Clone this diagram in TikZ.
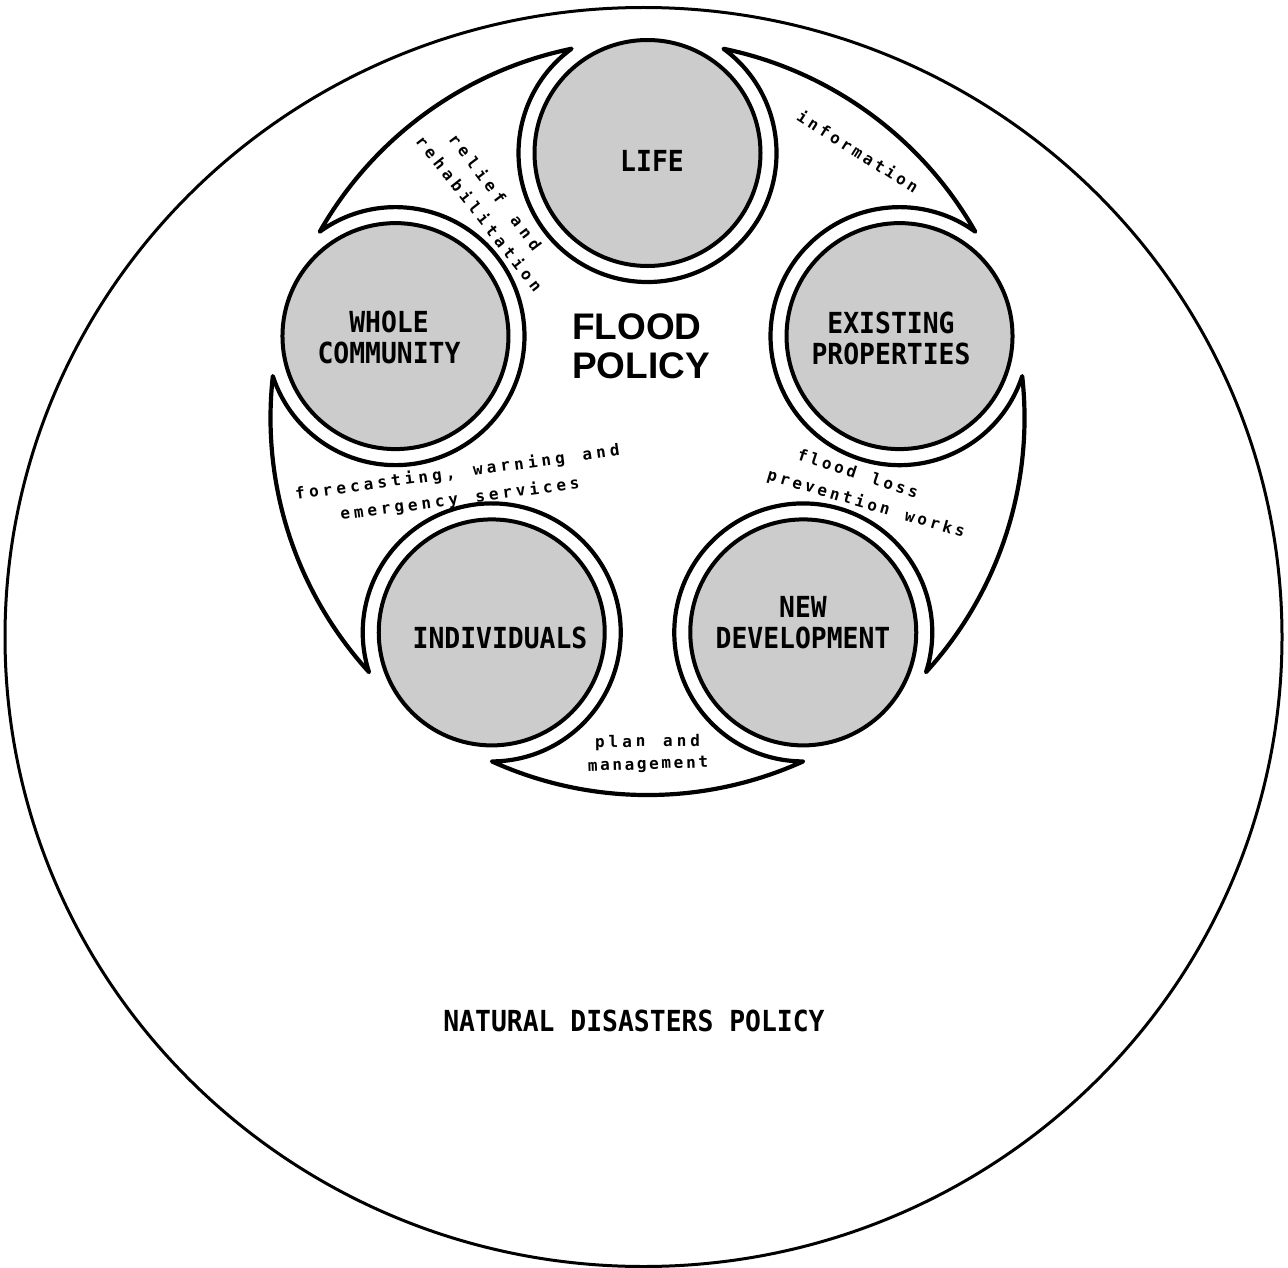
\documentclass[tikz,border=0pt]{standalone}
\usepackage{fontspec}
\newfontfamily\capmono[FakeStretch=0.91]{DejaVu Sans Mono Bold}
\newfontfamily\lblmonob{DejaVu Sans Mono Bold}
\newfontfamily\helvb{Liberation Sans Bold}
\newcommand\wlabfont{\lblmonob\fontsize{16}{18}\selectfont}
\usetikzlibrary{calc,decorations.text}
\begin{document}
\begin{tikzpicture}[x=1pt,y=1pt,
  wheel/.style={line width=4.2pt, line join=round, line cap=round},
  disc/.style={circle, draw, line width=4pt, fill=black!20, minimum size=226pt, inner sep=0pt},
  caplbl/.style={font=\capmono\fontsize{29}{31}\selectfont, align=center, inner sep=0pt},
  wlbl/.style={decorate, decoration={text along path, text align={fit to path}, raise=-4.3pt}},
]
\useasboundingbox (0,0) rectangle (1288,-1268);
\draw[line width=3pt] (643.5,-637) ellipse [x radius=638.5pt, y radius=629.5pt];
\coordinate (O) at (647.5,-418);
\draw[wheel] ($(O)+(101.62:377pt)$)
  \foreach \t in {162,234,306,378,450}{
    arc[start angle=\t-72+11.62, end angle=\t-11.62, radius=377pt]
    arc[start angle=\t+323.93, end angle=\t+36.07, radius=129pt]
  } -- cycle;
\node[disc] (life) at ($(O)+(90:265)$) {};
\node[disc] (wc) at ($(O)+(162:265)$) {};
\node[disc] (ind) at ($(O)+(234:265)$) {};
\node[disc] (nd) at ($(O)+(306:265)$) {};
\node[disc] (ep) at ($(O)+(18:265)$) {};
\node[caplbl] (lifeT) at (652,-161) {LIFE};
\node[caplbl] (wcT) at (389,-337.5) {WHOLE\\COMMUNITY};
\node[caplbl] (epT) at (891,-338) {EXISTING\\PROPERTIES};
\node[caplbl] (indT) at (500,-637.5) {INDIVIDUALS};
\node[caplbl] (ndT) at (803,-622.5) {NEW\\DEVELOPMENT};
\node[caplbl] (ndp) at (634,-1021) {NATURAL DISASTERS POLICY};
\node[font=\helvb\fontsize{37}{39}\selectfont, align=left, inner sep=0pt, anchor=west] (flood) at (572,-346.5) {FLOOD\\POLICY};
\path[wlbl, decoration={text={|\wlabfont|information}}] (798,-115.5) -- (916,-190.5);
\path[wlbl, decoration={text={|\wlabfont|relief and}}] (451.4,-136.6) -- (536.6,-249.4);
\path[wlbl, decoration={text={|\wlabfont|rehabilitation}}] (418.3,-138.6) -- (537.7,-290.4);
\path[wlbl, decoration={text={|\wlabfont|forecasting, warning and}}] (295.5,-495.6) -- (619.5,-451.4);
\path[wlbl, decoration={text={|\wlabfont|emergency services}}] (340.5,-515.6) -- (579.5,-484.4);
\path[wlbl, decoration={text={|\wlabfont|flood loss}}] (797.7,-455.6) -- (917.3,-494.4);
\path[wlbl, decoration={text={|\wlabfont|prevention works}}] (767.7,-475.7) -- (964.3,-533.3);
\path[wlbl, decoration={text={|\wlabfont|plan and}}] (595,-743) -- (700,-742);
\path[wlbl, decoration={text={|\wlabfont|management}}] (588,-767) -- (708,-763);
\end{tikzpicture}
\end{document}
